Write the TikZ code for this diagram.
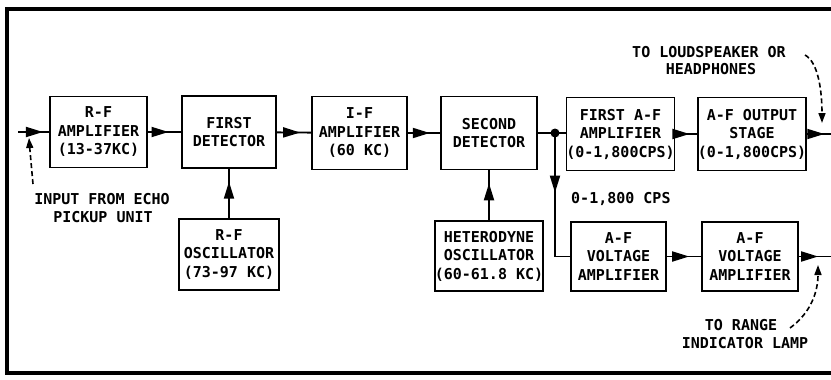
\documentclass[tikz,border=0pt]{standalone}
\usepackage{fontspec}
\newfontfamily\lbl{DejaVu Sans Mono}
\usetikzlibrary{arrows.meta,decorations.markings}
\begin{document}
\begin{tikzpicture}[x=1pt,y=-1pt,
  txt/.style={font=\lbl\bfseries\fontsize{15}{18.5}\selectfont,align=center,inner sep=0pt},
  box/.style={txt,draw,line width=1.6pt},
  conn/.style={line width=1.8pt},
  dsh/.style={line width=1.6pt,dash pattern=on 5pt off 3pt},
  midarrow/.style={postaction={decorate},decoration={markings,
     mark=at position #1 with {\arrow{Triangle[length=17pt,width=10pt]}}}},
  dot/.style={circle,fill,inner sep=0pt,minimum size=9pt}]
\useasboundingbox (0,0) rectangle (831,380);
\fill[white] (0,0) rectangle (831,380);
\draw[line width=3.5pt] (831,9) -- (7,9) -- (7,373) -- (831,373);

% top row
\node[box,minimum width=97pt,minimum height=71pt] (rfa) at (98.5,132) {R-F\\AMPLIFIER\\(13-37KC)};
\node[box,minimum width=94pt,minimum height=72pt] (fd) at (229,132) {FIRST\\DETECTOR};
\node[box,minimum width=95pt,minimum height=73pt] (ifa) at (359.5,133) {I-F\\AMPLIFIER\\(60 KC)};
\node[box,minimum width=96pt,minimum height=73pt] (sd) at (489,133) {SECOND\\DETECTOR};
\node[box,minimum width=103pt,minimum height=73pt] (faf) at (620.5,134) {FIRST A-F\\AMPLIFIER\\(0-1,800CPS)};
\node[box,minimum width=102pt,minimum height=73pt] (afo) at (752,134) {A-F OUTPUT\\STAGE\\(0-1,800CPS)};
% bottom row
\node[box,minimum width=100pt,minimum height=71pt] (rfo) at (229,254.5) {R-F\\OSCILLATOR\\(73-97 KC)};
\node[box,minimum width=104pt,minimum height=70pt] (het) at (489,256) {HETERODYNE\\OSCILLATOR\\(60-61.8 KC)};
\node[box,minimum width=95pt,minimum height=69pt] (av1) at (618.5,256.5) {A-F\\VOLTAGE\\AMPLIFIER};
\node[box,minimum width=96pt,minimum height=69pt] (av2) at (750,256.5) {A-F\\VOLTAGE\\AMPLIFIER};

\coordinate (j) at (555,133);
\coordinate (in0) at (18,132);
\coordinate (out1) at (831,134);
\coordinate (out2) at (831,256.5);

% connectors
\draw[conn,midarrow=0.8] (in0) -- (in0 -| rfa.west);
\draw[conn,midarrow=0.62] (rfa) -- (fd);
\draw[conn,midarrow=0.68] (fd) -- (ifa);
\draw[conn,midarrow=0.68] (ifa) -- (sd);
\draw[conn] (sd.east |- j) -- (j);
\draw[conn] (j) -- (j -| faf.west);
\draw[conn,midarrow=0.65] (faf) -- (afo);
\draw[conn,midarrow=0.72] (afo.east |- out1) -- (out1);
\draw[conn,midarrow=0.43] (j) |- (av1.west);
\draw[conn,midarrow=0.65] (av1) -- (av2);
\draw[conn,midarrow=0.6] (av2.east |- out2) -- (out2);
\draw[conn,midarrow=0.74] (rfo) -- (fd);
\draw[conn,midarrow=0.74] (het) -- (sd);
\node[dot] (jd) at (j) {};

% labels
\node[txt] (inl1) at (102,199) {INPUT FROM ECHO};
\node[txt] (inl2) at (103,217) {PICKUP UNIT};
\node[txt] (ls1) at (709,52) {TO LOUDSPEAKER OR};
\node[txt] (ls2) at (711,69) {HEADPHONES};
\node[txt,anchor=west] (cps) at (571,199) {0-1,800 CPS};
\node[txt] (rg1) at (741,325) {TO RANGE};
\node[txt] (rg2) at (745,343) {INDICATOR LAMP};

% dashed pointers
\coordinate (d1s) at (33,184);
\coordinate (d1e) at (29,138);
\draw[dsh,-{Triangle[length=10pt,width=7pt]}] (d1s) .. controls (31,165) .. (d1e);
\coordinate (d2s) at (805,55);
\coordinate (d2e) at (822,123);
\draw[dsh,-{Triangle[length=10pt,width=7pt]}] (d2s) .. controls (818,62) and (822,90) .. (d2e);
\coordinate (d3s) at (790,328);
\coordinate (d3e) at (818,265);
\draw[dsh,-{Triangle[length=10pt,width=7pt]}] (d3s) .. controls (812,312) and (818,290) .. (d3e);
\end{tikzpicture}
\end{document}
